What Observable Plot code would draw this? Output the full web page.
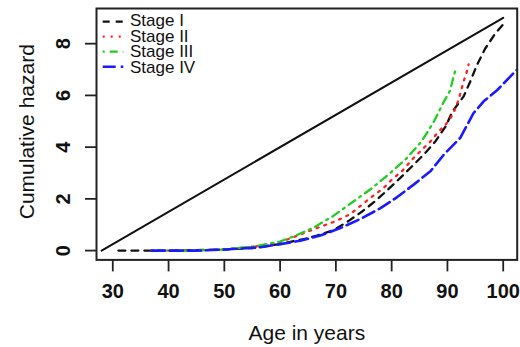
<!DOCTYPE html>
<html>
<head>
<meta charset="utf-8">
<script src="https://cdn.jsdelivr.net/npm/d3@7"></script>
<script src="https://cdn.jsdelivr.net/npm/@observablehq/plot@0.6"></script>
<style>
  html, body { margin: 0; padding: 0; background: #fff; }
  #wrap { position: relative; width: 520px; height: 347px; overflow: hidden; }
  #wrap svg { display: block; }
  #legend { position: absolute; left: 0; top: 0; }
</style>
</head>
<body>
<div id="wrap"></div>
<script>
// ---- data ----
const xTicks = [30, 40, 50, 60, 70, 80, 90, 100];
const yTicks = [0, 2, 4, 6, 8];

const refAge = [28, 100];
const refHaz = [0, 9];

const stage1Age = [31, 40, 50, 55, 60, 65, 66.6, 69.6, 72.3, 74.7, 77.1, 79.2, 81.6, 83.7, 85.8, 87.9, 89.7, 90.9, 92.9, 94.1, 95.3, 96.8, 98.6, 100];
const stage1Haz = [0, 0, 0.04, 0.1, 0.25, 0.48, 0.58, 0.79, 1.15, 1.51, 1.92, 2.33, 2.82, 3.27, 3.72, 4.24, 4.81, 5.38, 5.96, 6.54, 7.18, 7.82, 8.4, 8.75];

const stage2Age = [37, 45, 50, 55, 60, 61.3, 66.6, 69.9, 72.6, 75.9, 78.6, 80.1, 81.9, 83.7, 85.2, 87.0, 88.2, 90.2, 91.1, 92.0, 92.9, 93.4, 93.8];
const stage2Haz = [0, 0, 0.05, 0.13, 0.33, 0.43, 0.87, 1.13, 1.41, 1.99, 2.43, 2.76, 3.08, 3.53, 3.85, 4.23, 4.55, 5.0, 5.32, 5.83, 6.54, 6.86, 7.2];

const stage3Age = [37, 45, 50, 55, 60, 63, 66.1, 69.6, 72.9, 76.2, 79.5, 82.6, 85.4, 87.6, 89.4, 90.5, 91.1, 91.6];
const stage3Haz = [0, 0, 0.05, 0.15, 0.35, 0.6, 0.9, 1.35, 1.86, 2.37, 2.95, 3.55, 4.23, 5.0, 5.77, 6.2, 6.73, 7.1];

const stage4Age = [37, 45, 50, 56.5, 60, 63.6, 67.2, 70.8, 74.4, 78.0, 81.0, 84.0, 87.0, 89.4, 92.3, 94.7, 96.5, 98.9, 102.5];
const stage4Haz = [0, 0, 0.04, 0.13, 0.25, 0.38, 0.58, 0.87, 1.22, 1.64, 2.07, 2.56, 3.08, 3.72, 4.36, 5.32, 5.77, 6.2, 7.0];

const stageNames = ["Stage I", "Stage II", "Stage III", "Stage IV"];
const stageColors = ["#111111", "#ff2020", "#22cc22", "#1a1aff"];
const stageDash = ["7,6", "2,6", "2,5,8,5", "13,5"];

// ---- build tables ----
const toRows = (ages, haz) => ages.map((a, i) => ({age: a, haz: haz[i]}));
const refRows = toRows(refAge, refHaz);
const stageRows = [
  toRows(stage1Age, stage1Haz),
  toRows(stage2Age, stage2Haz),
  toRows(stage3Age, stage3Haz),
  toRows(stage4Age, stage4Haz)
];

const font = "'Liberation Sans', Arial, Helvetica, sans-serif";
const ink = "#111";

const chart = Plot.plot({
  width: 520,
  height: 347,
  marginLeft: 96,
  marginRight: 3.3,
  marginTop: 8,
  marginBottom: 87.6,
  x: {domain: [27.08, 102.51]},
  y: {domain: [-0.36, 9.36]},
  style: {fontFamily: font, background: "#fff", color: ink, overflow: "visible"},
  marks: [
    Plot.line(refRows, {x: "age", y: "haz", stroke: "#111", strokeWidth: 2, clip: true}),
    ...stageRows.map((rows, i) => Plot.line(rows, {
      x: "age", y: "haz",
      stroke: stageColors[i],
      strokeWidth: i === 3 ? 2.6 : 2.3,
      strokeDasharray: stageDash[i],
      clip: true
    })),
    Plot.frame({stroke: "#222", strokeWidth: 2}),
    Plot.axisX({
      ticks: xTicks, tickSize: 12, tickPadding: 11.5, label: null,
      fontSize: 20, fontWeight: "bold", stroke: "#222", strokeWidth: 1.8, fill: ink
    }),
    Plot.axisY({
      ticks: yTicks, tickSize: 11, tickFormat: () => "", label: null,
      stroke: "#222", strokeWidth: 1.8
    }),
    Plot.text(yTicks, {
      y: d => d, text: d => String(d), frameAnchor: "left", dx: -32.5,
      rotate: -90, fontSize: 20, fontWeight: "bold", fill: ink,
      textAnchor: "middle", lineAnchor: "middle"
    }),
    Plot.text(["Age in years"], {
      text: d => d, frameAnchor: "bottom", dy: 79.6, lineAnchor: "bottom",
      textAnchor: "middle", fontSize: 21, fill: ink
    }),
    Plot.text(["Cumulative hazard"], {
      text: d => d, frameAnchor: "left", dx: -69, dy: -2.5, rotate: -90,
      textAnchor: "middle", lineAnchor: "middle", fontSize: 21, fill: ink
    })
  ]
});

const wrap = document.getElementById("wrap");
wrap.appendChild(chart);
chart.querySelectorAll('g[aria-label="x-axis tick label"] text').forEach(t => t.setAttribute("font-weight", "bold"));

// ---- legend overlay (top-left inside the frame) ----
const leg = d3.select(wrap).append("svg")
  .attr("id", "legend")
  .attr("width", 220).attr("height", 90)
  .style("font-family", font);

const rows = leg.selectAll("g").data(stageNames).join("g");
rows.append("line")
  .attr("x1", 102.7).attr("x2", 123.3)
  .attr("y1", (d, i) => 21.7 + 15 * i).attr("y2", (d, i) => 21.7 + 15 * i)
  .attr("stroke", (d, i) => stageColors[i])
  .attr("stroke-width", (d, i) => i === 3 ? 2.6 : 2.3)
  .attr("stroke-dasharray", (d, i) => stageDash[i]);
rows.append("text")
  .attr("x", 130)
  .attr("y", (d, i) => 20.2 + 15.6 * i)
  .attr("dy", "0.35em")
  .attr("font-size", 17)
  .attr("fill", ink)
  .text(d => d);
</script>
</body>
</html>
